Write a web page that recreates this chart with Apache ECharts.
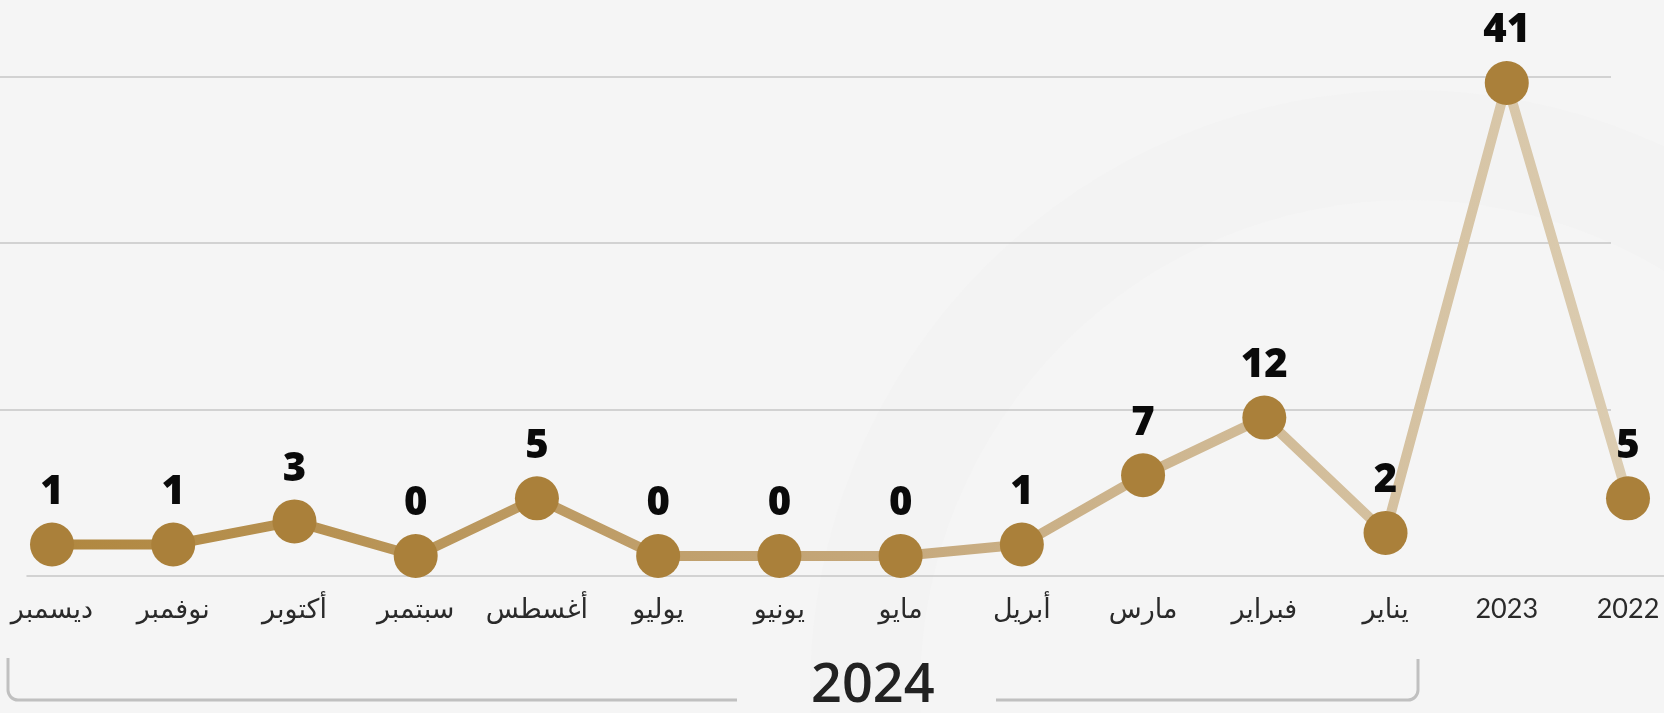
<!DOCTYPE html>
<html>
<head>
<meta charset="utf-8">
<script src="https://cdn.jsdelivr.net/npm/echarts@6/dist/echarts.min.js"></script>
<style>
  html, body { margin: 0; padding: 0; background: #f5f5f5; }
  #chart { width: 1664px; height: 713px; }
</style>
</head>
<body>
<div id="chart"></div>
<script>
// right-to-left months of 2024, then the two previous years
const categories = ['ديسمبر', 'نوفمبر', 'أكتوبر', 'سبتمبر', 'أغسطس', 'يوليو', 'يونيو', 'مايو', 'أبريل', 'مارس', 'فبراير', 'يناير', '2023', '2022'];
const counts = [1, 1, 3, 0, 5, 0, 0, 0, 1, 7, 12, 2, 41, 5];
const gridBands = [0, 1, 2, 3];

const gold = '#aa803a';
const gridColor = '#c6c6c6';
const bracketColor = '#c0c0c0';
const arabicFont = "Lato, 'DejaVu Sans', sans-serif";
const numFont = "'Open Sans', Lato, sans-serif";

const chart = echarts.init(document.getElementById('chart'));

const plotTop = 76.5;
const plotBottom = 137;

// the "2024" bracket under the month labels
function bracket() {
  const s = { fill: null, stroke: bracketColor, lineWidth: 3 };
  return [
    { type: 'polyline', silent: true, shape: { points: [[8, 658], [8, 690]] }, style: s },
    { type: 'arc', silent: true, shape: { cx: 18, cy: 690, r: 10, startAngle: Math.PI / 2, endAngle: Math.PI }, style: s },
    { type: 'polyline', silent: true, shape: { points: [[18, 700], [737, 700]] }, style: s },
    { type: 'polyline', silent: true, shape: { points: [[996, 700], [1408, 700]] }, style: s },
    { type: 'arc', silent: true, shape: { cx: 1408, cy: 690, r: 10, startAngle: 0, endAngle: Math.PI / 2 }, style: s },
    { type: 'polyline', silent: true, shape: { points: [[1418, 690], [1418, 659]] }, style: s }
  ];
}

chart.setOption({
  backgroundColor: '#f5f5f5',
  animation: false,
  grid: [
    // horizontal guide lines
    { left: 0, right: 53, top: plotTop, bottom: plotBottom },
    // baseline
    { left: 27, right: 0, top: plotTop, bottom: plotBottom },
    // the line itself
    { left: 52, right: 36, top: plotTop, bottom: plotBottom }
  ],
  xAxis: [
    { gridIndex: 0, type: 'value', min: 0, max: 1, show: false },
    {
      gridIndex: 1, type: 'value', min: 0, max: 1,
      axisLine: { show: true, lineStyle: { color: gridColor, width: 1.5 } },
      axisTick: { show: false }, axisLabel: { show: false }, splitLine: { show: false }
    },
    {
      gridIndex: 2, type: 'category', data: categories, boundaryGap: false,
      axisLine: { show: false }, axisTick: { show: false }, splitLine: { show: false },
      axisLabel: {
        color: '#2a2a2a', fontSize: 27, fontFamily: arabicFont, margin: 20,
        interval: 0, hideOverlap: false
      }
    }
  ],
  yAxis: [
    {
      gridIndex: 0, type: 'value', min: gridBands[0], max: gridBands[3], interval: 1,
      axisLine: { show: false }, axisTick: { show: false }, axisLabel: { show: false },
      splitLine: { show: true, lineStyle: { color: ['transparent', gridColor, gridColor, gridColor], width: 1.5 } }
    },
    { gridIndex: 1, type: 'value', show: false },
    { gridIndex: 2, type: 'value', min: -1.733, max: 41.56, show: false }
  ],
  graphic: [
    {
      type: 'ring', z: -10, silent: true,
      shape: { cx: 1410, cy: 690, r: 600, r0: 490 },
      style: { fill: '#f3f3f3' }
    },
    ...bracket(),
    {
      type: 'text', left: 811, top: 660, silent: true,
      style: {
        text: '2024', fill: '#222', fontSize: 54, fontWeight: 600,
        fontFamily: numFont
      }
    }
  ],
  series: [
    {
      type: 'line',
      xAxisIndex: 2,
      yAxisIndex: 2,
      data: counts,
      symbol: 'circle',
      symbolSize: 44,
      itemStyle: { color: gold },
      lineStyle: {
        width: 10,
        color: new echarts.graphic.LinearGradient(0, 0, 1, 0, [
          { offset: 0, color: '#b0873f' },
          { offset: 0.5, color: '#c4a678' },
          { offset: 1, color: '#dccdb2' }
        ])
      },
      label: {
        show: true,
        position: 'top',
        distance: 10,
        color: '#0a0a0a',
        fontSize: 40,
        fontWeight: 800,
        fontFamily: numFont
      },
      z: 3
    }
  ]
});
</script>
</body>
</html>
